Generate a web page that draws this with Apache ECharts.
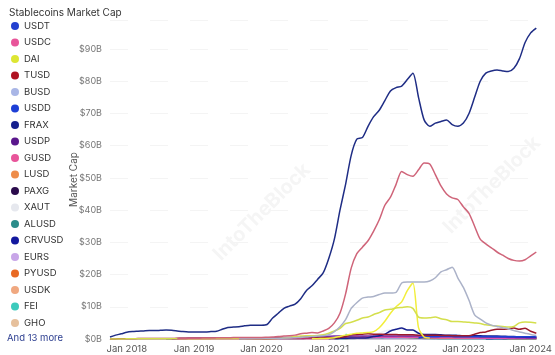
<!DOCTYPE html>
<html><head><meta charset="utf-8">
<script src="https://cdn.jsdelivr.net/npm/echarts@6/dist/echarts.min.js"></script>
<style>html,body{margin:0;padding:0;background:#fff}#c{width:555px;height:355px}</style>
</head><body><div id="c"></div>
<script>
// Monthly categories: Oct 2017 .. Feb 2024
const firstYear = 2017, firstMonth = 10, monthCount = 77;
const monthNames = ['Jan','Feb','Mar','Apr','May','Jun','Jul','Aug','Sep','Oct','Nov','Dec'];
const months = [];
for (let k = 0; k < monthCount; k++) {
  const m = (firstMonth - 1 + k) % 12, y = firstYear + Math.floor((firstMonth - 1 + k) / 12);
  months.push(y + '-' + String(m + 1).padStart(2, '0'));
}
const yTicks = [0,10,20,30,40,50,60,70,80,90];

// Values in $B, each list starts at the given month index
const usdtStart = 0;
const usdt = [0.6,1.2,1.6,2.1,2.3,2.4,2.5,2.6,2.6,2.7, 2.8,2.7,2.5,2.3,2.2,2.2,2.2,2.2,2.3,2.4,
  3.0,3.6,3.7,3.8,4.1,4.3,4.3,4.3,4.5,6.5, 8.0,9.5,10.2,10.8,12.5,15,16.5,18.5,20.5,25,
  31,40,48,57,62,62.5,66,69,71,74, 77,78,78.5,80.5,82.5,75,68,66,67,67.5,
  68,66.5,66,67,70,75,80,82.5,83.2,83.5, 83.2,83,84,87,92,95,96.5];
const usdcStart = 12;
const usdc = [0.1,0.15,0.2,0.25,0.25,0.3,0.3,0.35,
  0.4,0.4,0.45,0.45,0.5,0.5,0.5,0.5,0.55,0.6,
  0.8,0.9,1.0,1.2,1.6,1.8,2.0,1.9,2.5,3.3,
  5,8,14,22,26.5,28.5,30.5,33.5,37,41.5,
  44,48,52,51,50.5,52.5,54.6,54.3,51,47.5,
  45,43.8,43.3,41,39,35,31,29.5,28.3,27,
  26,25,24.4,24.2,24.6,25.8,27];
const daiStart = 0;
const dai = [0.01,0.02,0.03,0.04,0.05,0.05,0.05,0.06,0.06,0.07,0.07,0.07,
  0.08,0.08,0.08,0.08,0.09,0.09,0.09,0.1,0.1,0.1,0.1,0.1,0.1,0.1,0.1,0.1,
  0.1,0.1,0.15,0.3,0.5,0.8,0.9,1.0,1.0,1.1,1.3,1.8,
  2.5,3.3,4.8,5.2,5.8,6.5,6.8,7.6,8.2,9.0,
  9.2,9.6,9.8,10,9.5,6.8,6.5,6.6,6.8,6.3,
  6.0,5.4,5.4,5.3,5.2,5.0,4.8,4.4,4.2,4.0,
  3.9,3.7,3.9,5.0,5.3,5.2,5.0];
const tusdStart = 0;
const tusd = [0.02,0.03,0.05,0.08,0.1,0.12,0.12,0.13,0.15,0.15,0.15,0.15,
  0.2,0.2,0.2,0.2,0.2,0.2,0.2,0.2,0.2,0.2,0.2,0.2,0.2,0.2,0.2,0.2,
  0.15,0.15,0.2,0.3,0.35,0.4,0.4,0.4,0.35,0.3,0.35,0.35,
  0.4,0.5,0.8,1.3,1.4,1.5,1.6,1.5,1.5,1.4,
  1.4,1.4,1.3,1.3,1.3,1.2,1.2,1.2,1.2,1.1,
  1.1,1.0,1.0,1.0,1.0,1.5,2.0,2.2,2.7,3.0,
  3.0,3.2,3.4,3.0,3.3,2.4,1.8];
const busdStart = 23;
const busd = [0.05,0.1,0.15,0.2,0.2,0.2,0.2,
  0.2,0.3,0.3,0.4,0.5,0.6,0.8,0.9,1.0,1.3,
  2.3,3.8,6,9.5,11.3,12.7,13,13.2,13.8,14.3,
  14.3,14.5,17.4,17.7,17.7,17.7,17.7,18,19,20.8,
  21.5,22.3,19,16,12,7.5,6.2,5,4.3,3.9,
  3.5,3.2,2.6,2.2,1.8,1.4,1.1];
const usddStart = 55;
const usdd = [0.3,0.6,0.7,0.7,0.75,0.75,0.75,0.72,0.72,0.72,0.72,0.72,0.72,0.72,0.72,0.72,0.72,0.72,0.72,0.72,0.73,0.73];
const fraxStart = 39;
const frax = [0.1,0.15,0.2,0.25,0.3,0.3,0.3,0.4,0.8,1.0,1.5,2.5,3.0,3.4,2.8,2.8,1.8,1.4,1.4,1.4,
  1.3,1.2,1.2,1.1,1.0,1.0,1.0,1.0,0.9,0.9,0.9,0.85,0.8,0.75,0.7,0.65,0.65,0.65];
const usdpStart = 11;
const usdp = [0.05,0.1,0.15,0.2,0.25,0.25,0.25,0.25,0.25,0.25,0.25,0.25,
  0.25,0.25,0.25,0.25,0.25,0.25,0.3,0.4,0.45,0.5,0.55,0.6,
  0.6,0.7,0.75,0.8,0.85,0.9,0.9,0.9,0.9,0.95,0.95,0.95,
  0.95,0.95,0.95,0.95,0.95,0.95,0.95,0.95,0.95,0.95,0.95,0.95,
  0.95,0.95,0.9,0.9,0.85,0.85,0.85,0.8,0.75,0.7,0.6,0.55,
  0.5,0.45,0.4,0.35,0.3,0.3];
const gusdStart = 11;
const gusd = [0.01,0.05,0.05,0.05,0.06,0.06,0.07,0.08,0.08,0.08,0.09,0.09,
  0.1,0.1,0.1,0.1,0.1,0.1,0.1,0.12,0.12,0.12,0.13,0.13,
  0.14,0.15,0.15,0.15,0.16,0.18,0.2,0.25,0.3,0.35,0.4,0.45,
  0.48,0.5,0.52,0.55,0.58,0.6,0.58,0.55,0.5,0.48,0.45,0.42,
  0.4,0.38,0.35,0.33,0.32,0.3,0.28,0.27,0.26,0.25,0.24,0.23,
  0.22,0.21,0.2,0.2,0.2,0.2];
const lusdStart = 42;
const lusd = [0.1,0.3,0.7,0.5,0.6,0.65,0.6,0.6,0.58,0.55,0.52,0.5,0.48,0.45,0.42,0.35,0.28,0.26,0.25,0.24,
  0.23,0.22,0.21,0.2,0.2,0.2,0.2,0.2,0.2,0.2,0.18,0.18,0.18,0.18,0.18];
const paxgStart = 23;
const paxg = [0.03,0.05,0.06,0.07,0.08,0.1,0.12,0.13,0.14,0.15,0.16,0.18,
  0.2,0.25,0.3,0.35,0.38,0.4,0.45,0.5,0.55,0.6,0.62,0.62,
  0.62,0.62,0.6,0.6,0.58,0.58,0.6,0.58,0.55,0.52,0.5,0.5,
  0.5,0.5,0.5,0.5,0.52,0.52,0.5,0.5,0.48,0.48,0.47,0.47,
  0.47,0.47,0.48,0.48,0.48,0.48];
const xautStart = 28;
const xaut = [0.05,0.06,0.08,0.1,0.12,0.15,0.17,0.18,0.2,0.22,0.25,0.28,
  0.3,0.33,0.35,0.38,0.4,0.42,0.45,0.48,0.5,0.52,0.55,0.58,
  0.6,0.62,0.6,0.58,0.55,0.5,0.48,0.47,0.46,0.46,0.46,0.47,
  0.48,0.48,0.48,0.49,0.49,0.5,0.5,0.5,0.5,0.5,0.5,0.5,0.5];
const alusdStart = 40;
const alusd = [0.02,0.05,0.1,0.15,0.2,0.25,0.3,0.35,0.4,0.45,0.48,0.5,0.5,0.45,0.35,0.25,0.18,0.15,0.12,0.1,
  0.1,0.09,0.08,0.08,0.07,0.07,0.06,0.06,0.06,0.05,0.05,0.05,0.05,0.05,0.05,0.05,0.05];
const crvusdStart = 67;
const crvusd = [0.01,0.03,0.06,0.1,0.12,0.14,0.15,0.15,0.16,0.17];
const eursStart = 18;
const eurs = [0.01,0.01,0.01,0.01,0.02,0.02,0.02,0.02,0.02,0.02,0.03,0.03,
  0.03,0.04,0.05,0.06,0.07,0.08,0.09,0.1,0.12,0.13,0.14,0.15,
  0.15,0.16,0.16,0.16,0.15,0.15,0.15,0.14,0.14,0.13,0.13,0.12,
  0.11,0.1,0.1,0.09,0.09,0.09,0.09,0.09,0.09,0.1,0.1,0.1,
  0.1,0.1,0.1,0.1,0.1,0.1,0.1,0.1,0.1,0.1,0.1];
const pyusdStart = 70;
const pyusd = [0.03,0.04,0.04,0.05,0.1,0.15,0.2];
const usdkStart = 12;
const usdk = [0.02,0.03,0.03,0.03,0.03,0.03,0.03,0.03,0.03,0.03,0.03,0.03,0.03,0.03,0.03,
  0.03,0.03,0.03,0.03,0.03,0.03,0.03,0.03,0.03,0.03,0.03,0.03,0.03,0.03];
const feiStart = 42;
const fei = [1.5,0.6,0.5,0.5,0.5,0.55,0.6,0.6,0.55,0.5,0.5,0.5,0.5,0.4,0.3,0.2,0.1];
const ghoStart = 71;
const gho = [0.005,0.01,0.02,0.03,0.035,0.035];
// part of the 13 unlisted coins
const ustStart = 36;
const ust = [0.05,0.1,0.15,0.2,0.4,0.8,1.2,1.5,1.8,1.9,2.0,2.3,3.5,5.5,8,10,11.5,15,17.4,3.5,0.6,0.3];
const mimStart = 44;
const mim = [0.1,0.3,0.6,1.0,1.8,2.5,2.8,3.0,3.0,2.9,2.8,1.0,0.3];
const susdStart = 10;
const susd = [0.05,0.08,0.1,0.1,0.1,0.1,0.1,0.1,0.1,0.1,0.1,0.1,0.1,0.1,0.1,0.1,0.1,0.1,0.1,0.1,0.1,0.1,0.1,0.1,0.1,0.1,0.1];

function pad(start, vals) {
  const a = new Array(start).fill(null).concat(vals);
  while (a.length < months.length) a.push(null);
  return a;
}

const coins = [
  // name, legend colour, line colour, data, listed in legend
  ['USDT', '#2340d0', '#1f2d85', pad(usdtStart, usdt), true],
  ['USDC', '#e8559a', '#cf6479', pad(usdcStart, usdc), true],
  ['DAI', '#dde633', '#d4df4c', pad(daiStart, dai), true],
  ['TUSD', '#b01322', '#9c1a2c', pad(tusdStart, tusd), true],
  ['BUSD', '#a9b6e6', '#abb2c8', pad(busdStart, busd), true],
  ['USDD', '#1d3fd6', '#1d3fd6', pad(usddStart, usdd), true],
  ['FRAX', '#16208e', '#16208e', pad(fraxStart, frax), true],
  ['USDP', '#5a178c', '#7a2aa8', pad(usdpStart, usdp), true],
  ['GUSD', '#e8559a', '#e04fb0', pad(gusdStart, gusd), true],
  ['LUSD', '#ee8c4a', '#ee8c4a', pad(lusdStart, lusd), true],
  ['PAXG', '#2b0b4c', '#2b0b4c', pad(paxgStart, paxg), true],
  ['XAUT', '#e6e8ee', '#dfe2ea', pad(xautStart, xaut), true],
  ['ALUSD', '#2b8c8a', '#2b8c8a', pad(alusdStart, alusd), true],
  ['CRVUSD', '#13189e', '#13189e', pad(crvusdStart, crvusd), true],
  ['EURS', '#c8a6e8', '#c8a6e8', pad(eursStart, eurs), true],
  ['PYUSD', '#e86a24', '#e86a24', pad(pyusdStart, pyusd), true],
  ['USDK', '#f0a880', '#f0a880', pad(usdkStart, usdk), true],
  ['FEI', '#3ccabc', '#3ccabc', pad(feiStart, fei), true],
  ['GHO', '#e6c09c', '#e6c09c', pad(ghoStart, gho), true],
  ['UST', '#f2ee3c', '#f2ee3c', pad(ustStart, ust), false],
  ['MIM', '#eef0f8', '#eef0f8', pad(mimStart, mim), false],
  ['SUSD', '#3c8c46', '#3c8c46', pad(susdStart, susd), false]
];

const FONT = 'Inter, "Noto Sans", sans-serif';
const drawOrder = [21, 20, 18, 17, 16, 15, 14, 13, 12, 11, 10, 9, 8, 7, 6, 5, 3, 19, 2, 4, 1, 0];
const series = drawOrder.map(i => {
  const c = coins[i];
  return {
    name: c[0], type: 'line', data: c[3], showSymbol: false, smooth: 0.25,
    itemStyle: { color: c[1] },
    lineStyle: { color: c[2], width: 1.5 },
    emphasis: { disabled: true }
  };
});

const chart = echarts.init(document.getElementById('c'), null, { renderer: 'canvas' });
chart.setOption({
  animation: false,
  backgroundColor: '#ffffff',
  textStyle: { fontFamily: FONT },
  title: {
    text: 'Stablecoins Market Cap', left: 4, top: 3,
    textStyle: { fontSize: 10, fontWeight: 'normal', color: '#333', fontFamily: FONT }
  },
  legend: {
    orient: 'vertical', left: 6, top: 15, icon: 'circle',
    itemWidth: 8, itemHeight: 8, itemGap: 4.5,
    data: coins.filter(c => c[4]).map(c => ({ name: c[0], itemStyle: { color: c[1] } })),
    textStyle: { fontSize: 9.5, color: '#333', lineHeight: 12, fontFamily: FONT },
    selectedMode: false
  },
  graphic: [
    { type: 'text', left: 7, top: 333, style: { text: 'And 13 more', fill: '#2b3d8f', font: '9.5px ' + FONT } },
    { type: 'text', x: 262, y: 212, rotation: Math.PI / 4, originX: 0, originY: 0,
      style: { text: 'IntoTheBlock', fill: '#f5f5f5', font: 'bold 20px ' + FONT, align: 'center', verticalAlign: 'middle' }, z: -10 },
    { type: 'text', x: 492, y: 185, rotation: Math.PI / 4, originX: 0, originY: 0,
      style: { text: 'IntoTheBlock', fill: '#f5f5f5', font: 'bold 20px ' + FONT, align: 'center', verticalAlign: 'middle' }, z: -10 }
  ],
  grid: { left: 110, right: 18, top: 20, bottom: 16, containLabel: false },
  xAxis: {
    type: 'category', data: months, boundaryGap: false,
    axisLine: { lineStyle: { color: '#cfcfcf' } },
    axisTick: { show: false },
    axisLabel: {
      interval: (idx, val) => val.endsWith('-01'),
      formatter: v => monthNames[parseInt(v.slice(5), 10) - 1] + ' ' + v.slice(0, 4),
      fontSize: 9.5, color: '#555', margin: 5, fontFamily: FONT
    },
    splitLine: { show: false }
  },
  yAxis: {
    type: 'value', min: yTicks[0], max: 99, interval: 10,
    name: 'Market Cap', nameLocation: 'middle', nameGap: 31, nameMoveOverlap: false,
    nameTextStyle: { fontSize: 10, color: '#555', fontFamily: FONT },
    axisLine: { show: false }, axisTick: { show: false },
    axisLabel: { formatter: v => '$' + v + 'B', fontSize: 9, color: '#777', margin: 8, showMaxLabel: false, fontFamily: FONT },
    splitLine: { lineStyle: { color: '#f4f4f4', type: [18, 22] } }
  },
  series: series
});
</script></body></html>
